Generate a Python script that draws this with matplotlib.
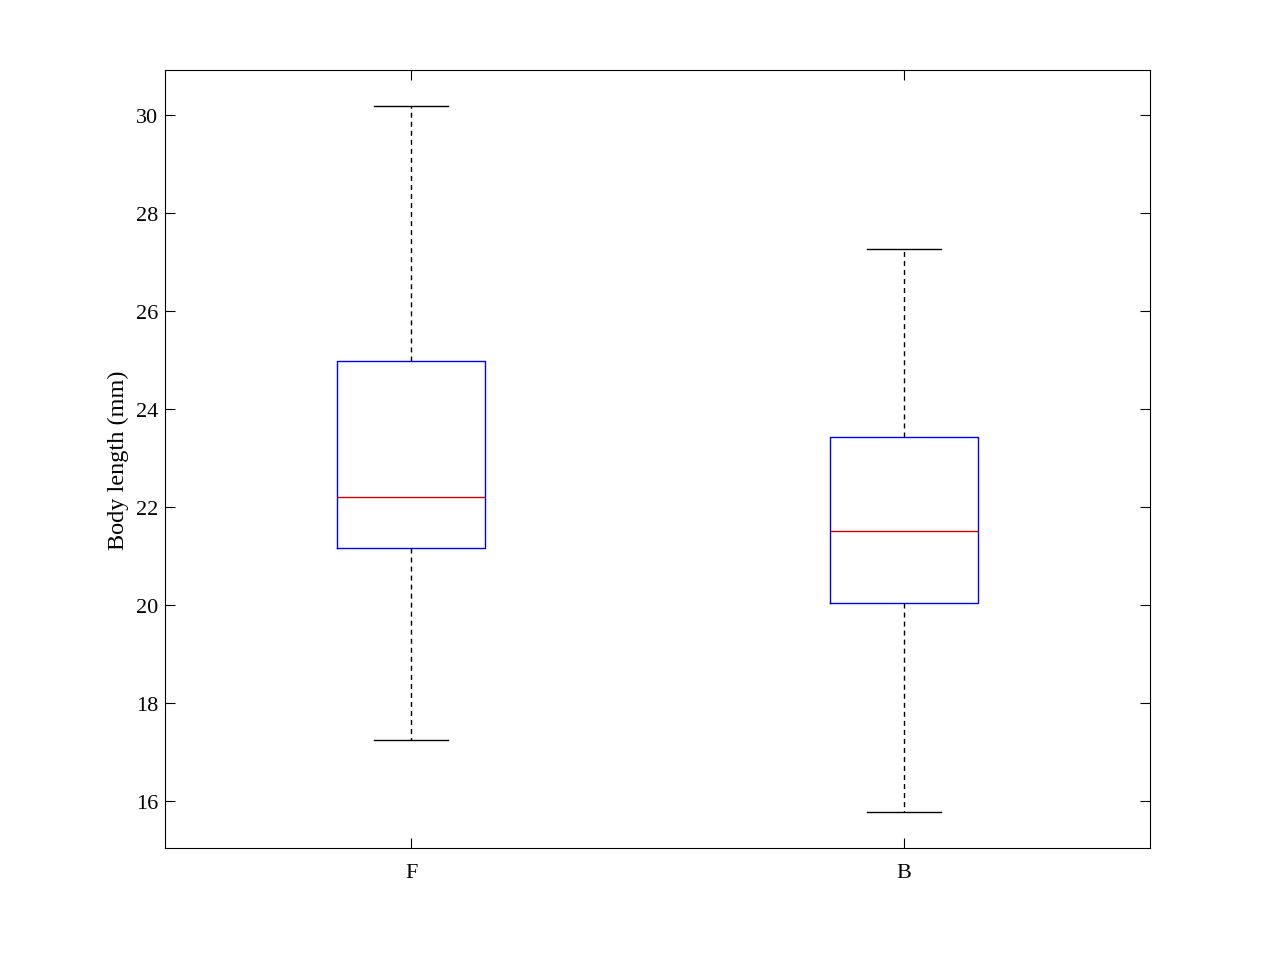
import matplotlib
matplotlib.use("Agg")
import matplotlib.pyplot as plt

plt.rcParams['font.family'] = ['Liberation Serif', 'DejaVu Serif']

groups = ["F", "B"]
whisker_low = [17.25, 15.78]
q1 = [21.16, 20.04]
medians = [22.20, 21.51]
q3 = [24.98, 23.43]
whisker_high = [30.18, 27.27]

stats = []
for i in range(len(groups)):
    stats.append({"label": groups[i], "whislo": whisker_low[i], "q1": q1[i],
                  "med": medians[i], "q3": q3[i], "whishi": whisker_high[i],
                  "fliers": []})

fig = plt.figure(figsize=(12.72, 9.54), dpi=100)
ax = fig.add_axes([165/1272, 1-849/954, 985/1272, 778/954])

ax.bxp(stats, positions=[1, 2], widths=0.3, showfliers=False,
       boxprops=dict(color="blue", linewidth=1),
       medianprops=dict(color="#cc0000", linewidth=1),
       whiskerprops=dict(color="black", linewidth=1, linestyle=(0, (3.6, 2.9))),
       capprops=dict(color="black", linewidth=1),
       capwidths=0.15)

ax.set_xlim(0.5, 2.5)
ax.set_ylim(15.04, 30.92)
ax.set_yticks([16, 18, 20, 22, 24, 26, 28, 30])
ax.set_xticks([1, 2])
ax.set_xticklabels(groups)
ax.set_ylabel("Body length (mm)", fontsize=17.5, labelpad=5)
ax.tick_params(axis="y", direction="in", right=True, length=7, labelsize=16, pad=5)
ax.tick_params(axis="x", direction="in", top=True, length=7, labelsize=16, pad=11)
for s in ax.spines.values():
    s.set_linewidth(0.8)

fig.savefig("out.png", dpi=100)
